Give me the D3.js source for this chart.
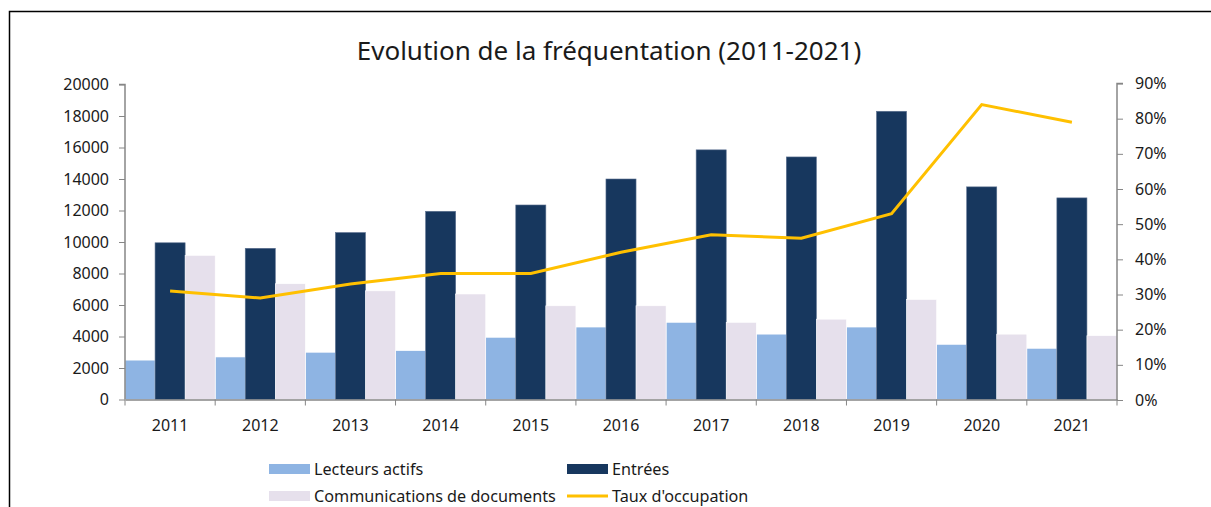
<!DOCTYPE html>
<html>
<head>
<meta charset="utf-8">
<script src="https://cdn.jsdelivr.net/npm/d3@7"></script>
<style>
  body { margin: 0; background: #fff; }
  svg text { font-family: "Noto Sans", sans-serif; fill: #1a1a1a; }
</style>
</head>
<body>
<div id="chart"></div>
<script>
// data
const years = ["2011", "2012", "2013", "2014", "2015", "2016", "2017", "2018", "2019", "2020", "2021"];
const lecteurs = [2500, 2700, 3000, 3100, 3950, 4600, 4900, 4150, 4600, 3500, 3250];
const entrees = [9950, 9600, 10600, 11950, 12350, 14000, 15850, 15400, 18300, 13500, 12800];
const communications = [9150, 7350, 6900, 6700, 5950, 5950, 4900, 5100, 6350, 4150, 4050];
const taux = [0.31, 0.29, 0.33, 0.36, 0.36, 0.42, 0.47, 0.46, 0.53, 0.84, 0.79];
const leftTicks = [0, 2000, 4000, 6000, 8000, 10000, 12000, 14000, 16000, 18000, 20000];
const rightTicks = [0, 0.1, 0.2, 0.3, 0.4, 0.5, 0.6, 0.7, 0.8, 0.9];

const seriesNames = ["Lecteurs actifs", "Entrées", "Communications de documents"];
const seriesColors = ["#8EB4E3", "#17375E", "#E6E0EC"];
const lineName = "Taux d'occupation";
const lineColor = "#FFC000";

const W = 1211, H = 507;
const MARGIN = { LEFT: 125, RIGHT: 94, TOP: 84.5, BOTTOM: 107.5 };

const svg = d3.select("#chart").append("svg")
    .attr("width", W)
    .attr("height", H);

// outer frame (only top and left edges show in the picture)
svg.append("rect")
    .attr("x", 9.5).attr("y", 11.5)
    .attr("width", W + 20).attr("height", H + 20)
    .attr("fill", "none")
    .attr("stroke", "#000")
    .attr("stroke-width", 1.5);

svg.append("text")
    .attr("x", 609)
    .attr("y", 59.5)
    .attr("text-anchor", "middle")
    .style("font-size", "26px")
    .text("Evolution de la fréquentation (2011-2021)");

const x = d3.scaleBand().domain(years).range([MARGIN.LEFT, W - MARGIN.RIGHT]).padding(0);
const xInner = d3.scaleBand().domain(d3.range(3)).range([0, x.bandwidth()]).padding(0);
const yLeft = d3.scaleLinear().domain([0, 20000]).range([H - MARGIN.BOTTOM, MARGIN.TOP]);
const yRight = d3.scaleLinear().domain([0, 0.9]).range([H - MARGIN.BOTTOM + 0.5, 83.5]);

// bars
const allSeries = [lecteurs, entrees, communications];
allSeries.forEach((vals, i) => {
    svg.append("g").selectAll("rect")
        .data(vals)
        .join("rect")
        .attr("x", (d, j) => x(years[j]) + xInner(i))
        .attr("y", d => yLeft(d))
        .attr("width", xInner.bandwidth())
        .attr("height", d => yLeft(0) - yLeft(d))
        .attr("fill", seriesColors[i])
        .attr("stroke", i === 1 ? "#5c7190" : "#fff")
        .attr("stroke-width", 0.6);
});

// axes
const axisColor = "#868686";
const gLeft = svg.append("g")
    .attr("transform", `translate(${MARGIN.LEFT},0)`)
    .call(d3.axisLeft(yLeft).tickValues(leftTicks).tickSize(6).tickPadding(10).tickFormat(d3.format("d")));

const gBottom = svg.append("g")
    .attr("transform", `translate(0,${yLeft(0)})`)
    .call(d3.axisBottom(x).tickSize(0).tickPadding(20));
// ticks between categories
gBottom.selectAll(".between")
    .data(d3.range(years.length + 1))
    .join("line")
    .attr("class", "between")
    .attr("x1", i => MARGIN.LEFT + i * x.step())
    .attr("x2", i => MARGIN.LEFT + i * x.step())
    .attr("y1", 0).attr("y2", 6)
    .attr("stroke", axisColor);

const gRight = svg.append("g")
    .attr("transform", `translate(${W - MARGIN.RIGHT},0)`)
    .call(d3.axisRight(yRight).tickValues(rightTicks).tickSize(6).tickPadding(12).tickFormat(d3.format(".0%")));

[gLeft, gBottom, gRight].forEach(g => {
    g.select(".domain").attr("stroke", axisColor).attr("stroke-width", 1.5);
    g.selectAll(".tick line").attr("stroke", axisColor);
    g.selectAll(".tick text").style("font-size", "16px").attr("fill", "#1a1a1a")
        .style("font-family", "'Noto Sans', sans-serif");
});
gLeft.select(".domain").attr("d", `M-6,${yLeft(20000)}H0V${yLeft(0)}`);
gRight.select(".domain").attr("d", `M6,${yRight(0.9)}H0V${yRight(0)}`);

// occupancy line
const line = d3.line()
    .x((d, i) => x(years[i]) + x.bandwidth() / 2)
    .y(d => yRight(d));

svg.append("path")
    .datum(taux)
    .attr("d", line)
    .attr("fill", "none")
    .attr("stroke", lineColor)
    .attr("stroke-width", 3);

// legend
const legendItems = [
    { name: seriesNames[0], color: seriesColors[0], type: "rect", x: 269, y: 469 },
    { name: seriesNames[1], color: seriesColors[1], type: "rect", x: 567, y: 469 },
    { name: seriesNames[2], color: seriesColors[2], type: "rect", x: 269, y: 496 },
    { name: lineName, color: lineColor, type: "line", x: 567, y: 496 }
];
const legend = svg.append("g");
legendItems.forEach(it => {
    if (it.type === "rect") {
        legend.append("rect")
            .attr("x", it.x).attr("y", it.y - 5)
            .attr("width", 41).attr("height", 10)
            .attr("fill", it.color);
    } else {
        legend.append("line")
            .attr("x1", it.x).attr("x2", it.x + 41)
            .attr("y1", it.y).attr("y2", it.y)
            .attr("stroke", it.color).attr("stroke-width", 3);
    }
    legend.append("text")
        .attr("x", it.x + 45)
        .attr("y", it.y)
        .attr("dy", "0.35em")
        .style("font-size", "16.2px")
        .text(it.name);
});
</script>
</body>
</html>
